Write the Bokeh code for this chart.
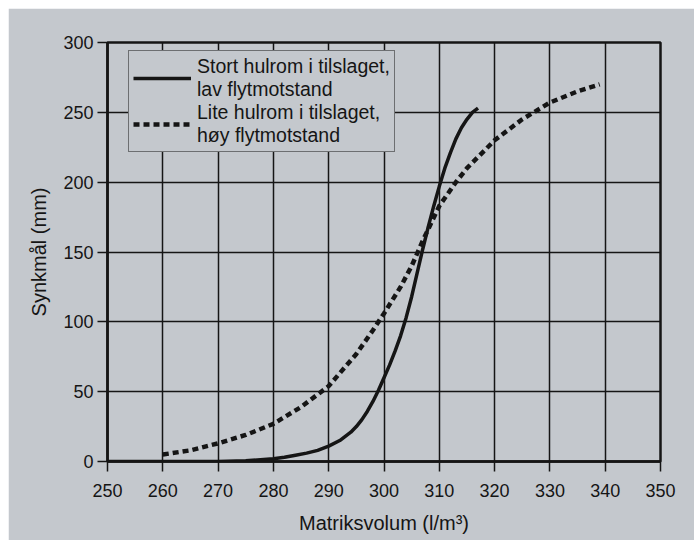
from bokeh.plotting import figure
from bokeh.models import Range1d, FixedTicker, Legend, LegendItem
from bokeh.embed import file_html
from bokeh.resources import INLINE

# Data
x_stort = [250, 260, 270, 275, 280, 282, 284, 286, 288, 290, 292, 294, 295, 296, 297, 298, 299, 300,
           301, 302, 303, 304, 305, 306, 307, 308, 309, 310, 311, 312, 313, 314, 315, 316, 317]
y_stort = [0, 0, 0, 0.5, 2, 3, 4.5, 6, 8, 11, 15, 21, 25, 30, 36, 43, 51, 60,
           69, 79, 90, 103, 118, 135, 152, 168, 183, 197, 210, 221, 231, 239, 245, 250, 253]

x_lite = [260, 265, 270, 275, 280, 285, 290, 295, 298, 300, 303, 305, 307, 310, 313, 315, 320, 325, 330, 335, 339]
y_lite = [5, 8, 13, 19, 27, 39, 54, 77, 94, 106, 125, 140, 158, 183, 200, 210, 230, 245, 257, 265, 270]

x_ticks = [250, 260, 270, 280, 290, 300, 310, 320, 330, 340, 350]
y_ticks = [0, 50, 100, 150, 200, 250, 300]

label_stort = "Stort hulrom i tilslaget,\nlav flytmotstand"
label_lite = "Lite hulrom i tilslaget,\nhøy flytmotstand"

BG = "#c4c8cd"
INK = "#151515"
FONT = "Liberation Sans"

p = figure(width=686, height=532, output_backend="svg", toolbar_location=None,
           x_range=Range1d(250, 350), y_range=Range1d(0, 300),
           min_border_left=99, min_border_right=34, min_border_top=34, min_border_bottom=79)
p.margin = (8, 0, 0, 8)
p.background_fill_color = BG
p.border_fill_color = BG
p.outline_line_color = INK
p.outline_line_width = 2.5

for ax in (p.xaxis[0], p.yaxis[0]):
    ax.axis_line_color = INK
    ax.axis_line_width = 2.5
    ax.major_tick_line_color = INK
    ax.major_tick_line_width = 1.5
    ax.major_tick_out = 10
    ax.major_tick_in = 0
    ax.minor_tick_line_color = None
    ax.major_label_text_font = FONT
    ax.major_label_text_font_size = "18px"
    ax.major_label_text_color = INK
    ax.axis_label_text_font = FONT
    ax.axis_label_text_font_size = "20px"
    ax.axis_label_text_font_style = "normal"
    ax.axis_label_text_color = INK

p.xaxis.ticker = FixedTicker(ticks=x_ticks)
p.yaxis.ticker = FixedTicker(ticks=y_ticks)
p.xaxis.axis_label = "Matriksvolum (l/m³)"
p.yaxis.axis_label = "Synkmål (mm)"
p.xaxis.major_label_standoff = 12
p.yaxis.major_label_standoff = 4
p.xaxis.axis_label_standoff = 12
p.yaxis.axis_label_standoff = 10

p.grid.grid_line_color = INK
p.grid.grid_line_width = 1.5
p.grid.grid_line_alpha = 1.0

r1 = p.line(x_stort, y_stort, line_color=INK, line_width=3.5)
r2 = p.line(x_lite, y_lite, line_color=INK, line_width=4.5, line_dash="6 4")

legend = Legend(items=[LegendItem(label=label_stort, renderers=[r1]),
                       LegendItem(label=label_lite, renderers=[r2])],
                location=(21, 309))
legend.background_fill_color = BG
legend.background_fill_alpha = 1.0
legend.border_line_color = INK
legend.border_line_width = 1.5
legend.label_text_font = FONT
legend.label_text_font_size = "19.5px"
legend.label_text_color = INK
legend.label_text_line_height = 1.08
legend.glyph_width = 58
legend.glyph_height = 20
legend.label_standoff = 6
legend.padding = 4
legend.spacing = 0
legend.margin = 0
p.add_layout(legend, "center")

open("out.html", "w").write(file_html(p, INLINE))
